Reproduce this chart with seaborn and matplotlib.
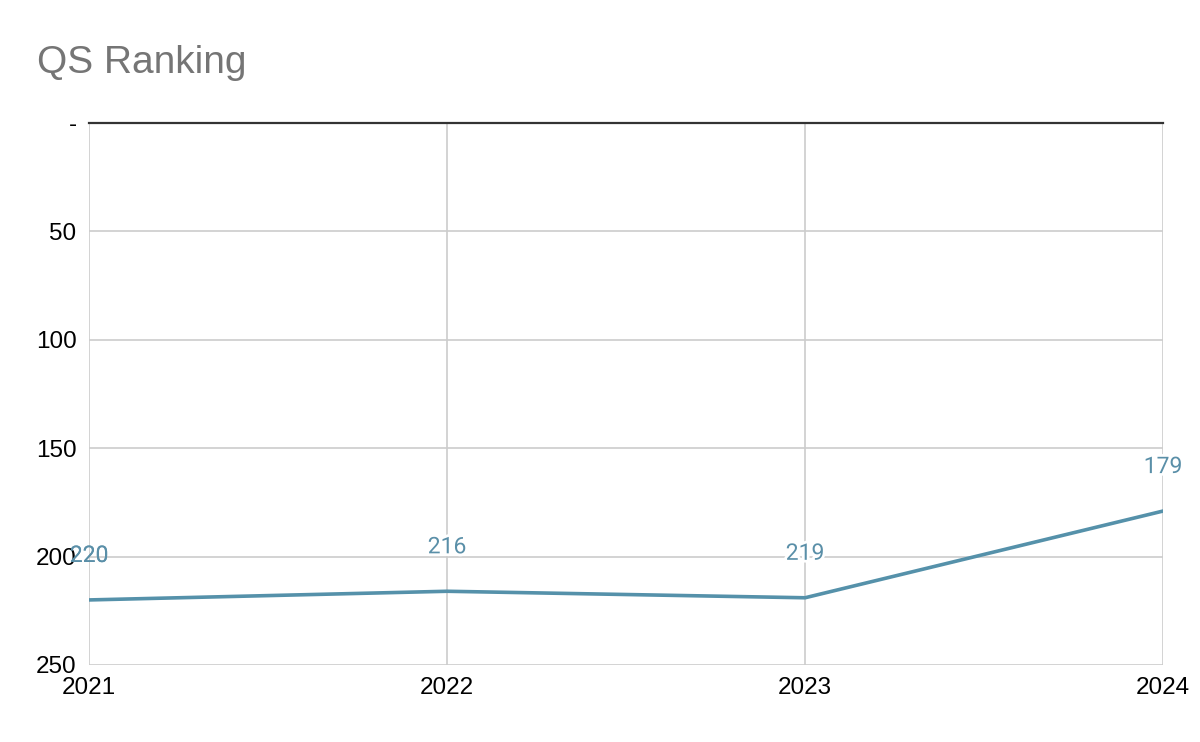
import pandas as pd
import matplotlib.pyplot as plt
import matplotlib.patheffects as pe
import seaborn as sns

# DATA
years = [2021, 2022, 2023, 2024]
ranks = [220, 216, 219, 179]
y_ticks = [0, 50, 100, 150, 200, 250]
y_tick_labels = ["-", "50", "100", "150", "200", "250"]

df = pd.DataFrame({"Year": years, "Rank": ranks})

sns.set_theme(style="whitegrid")
plt.rcParams["font.family"] = ["Liberation Sans", "DejaVu Sans"]

line_color = "#5591aa"
grid_color = "#cccccc"

fig = plt.figure(figsize=(12, 7.42), dpi=100)
ax = fig.add_axes([0.0742, 0.1038, 0.8950, 0.7305])

sns.lineplot(data=df, x="Year", y="Rank", ax=ax, color=line_color, linewidth=2.6)

ax.set_xlim(years[0], years[-1])
ax.set_ylim(250, 0)
ax.set_xticks(years)
ax.set_xticklabels([str(y) for y in years])
ax.set_yticks(y_ticks)
ax.set_yticklabels(y_tick_labels)
ax.set_xlabel("")
ax.set_ylabel("")

ax.grid(True, color=grid_color, linewidth=1.2)
ax.set_facecolor("white")
for side in ["left", "right", "bottom"]:
    ax.spines[side].set_visible(False)
ax.spines["top"].set_color("#333333")
ax.spines["top"].set_linewidth(1.6)
ax.spines["top"].set_zorder(5)

ax.tick_params(axis="both", length=0, labelsize=17.5, colors="black")
ax.tick_params(axis="y", pad=9)
ax.tick_params(axis="x", pad=9)

# data labels with a thin white halo (first one sits over the "200" tick, as in the original)
for x, y in zip(years, ranks):
    halo = 0 if x == years[0] else 4
    ax.annotate(str(y), (x, y), xytext=(0, 32), textcoords="offset points",
                ha="center", va="center", fontsize=16.5, color="#5a8fa8",
                family=["Roboto", "DejaVu Sans"], clip_on=False, zorder=6,
                path_effects=[pe.withStroke(linewidth=halo, foreground="white")])

fig.text(0.031, 0.915, "QS Ranking", fontsize=28, color="#757575",
         ha="left", va="center")

fig.savefig("out.png", dpi=100, facecolor="white")
